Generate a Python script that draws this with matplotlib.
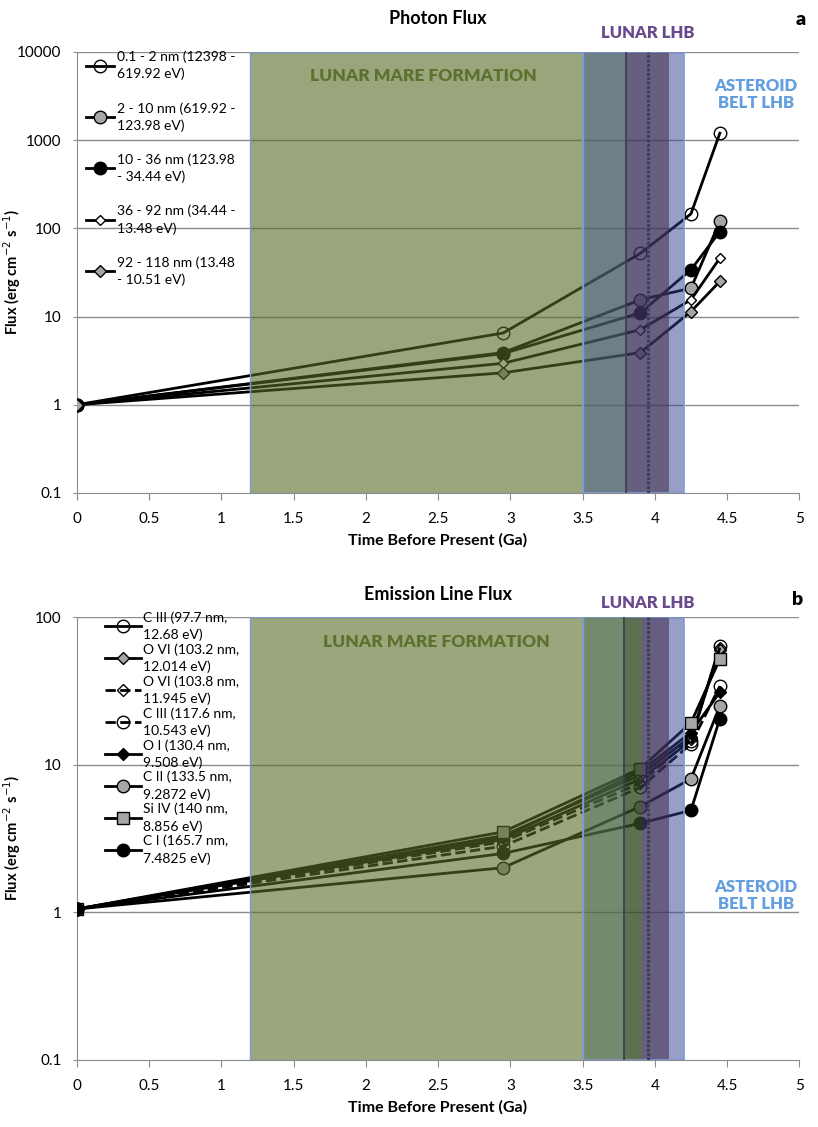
import numpy as np
import matplotlib
matplotlib.use("Agg")
import matplotlib.pyplot as plt
from matplotlib.ticker import FixedLocator, FixedFormatter

plt.rcParams['font.family'] = ['Lato', 'DejaVu Sans']

# ---- panel a: photon flux ----
photon_time = [0, 2.95, 3.9, 4.25, 4.45]
photon_labels = [
    "0.1 - 2 nm (12398 -\n619.92 eV)",
    "2 - 10 nm (619.92 -\n123.98 eV)",
    "10 - 36 nm (123.98\n- 34.44 eV)",
    "36 - 92 nm (34.44 -\n13.48 eV)",
    "92 - 118 nm (13.48\n- 10.51 eV)",
]
flux_01_2 = [1, 6.5, 52, 146, 1200]
flux_2_10 = [1, 3.9, 15.5, 21, 120]
flux_10_36 = [1, 3.8, 11, 34, 92]
flux_36_92 = [1, 2.95, 7.1, 15.5, 46]
flux_92_118 = [1, 2.3, 3.9, 11.4, 25]

# ---- panel b: emission line flux ----
line_time = [0, 2.95, 3.9, 4.25, 4.45]
line_labels = [
    "C III (97.7 nm,\n12.68 eV)",
    "O VI (103.2 nm,\n12.014 eV)",
    "O VI (103.8 nm,\n11.945 eV)",
    "C III (117.6 nm,\n10.543 eV)",
    "O I (130.4 nm,\n9.508 eV)",
    "C II (133.5 nm,\n9.2872 eV)",
    "Si IV (140 nm,\n8.856 eV)",
    "C I (165.7 nm,\n7.4825 eV)",
]
c3_977 = [1.05, 3.1, 8.0, 14.5, 64]
o6_1032 = [1.05, 3.3, 8.5, 15.5, 60]
o6_1038 = [1.05, 3.0, 7.5, 15.0, 62]
c3_1176 = [1.05, 2.8, 7.0, 13.8, 34]
o1_1304 = [1.05, 3.2, 9.0, 16.5, 31]
c2_1335 = [1.05, 2.0, 5.2, 8.0, 25]
si4_140 = [1.05, 3.5, 9.4, 19.2, 52]
c1_1657 = [1.05, 2.5, 4.0, 4.9, 20.5]

# shaded epochs (start Ga, end Ga, colour as seen) for each panel
spans_a = [(1.2, 3.5, (154, 165, 123)), (3.5, 3.8, (110, 128, 136)),
           (3.8, 4.1, (103, 95, 128)), (4.1, 4.2, (150, 160, 200))]
spans_b = [(1.2, 3.5, (156, 166, 124)), (3.5, 3.79, (116, 138, 108)),
           (3.79, 3.91, (95, 112, 80)), (3.91, 4.1, (102, 94, 128)),
           (4.1, 4.2, (150, 160, 200))]

GRAY = '#a6a6a6'


def overlay_colour(rgb, alpha):
    # colour that gives rgb over white at the given alpha
    return tuple(np.clip((np.array(rgb) - 255 * (1 - alpha)) / alpha, 0, 255) / 255)


def draw_spans(ax, spans, lines_at):
    for x0, x1, rgb in spans:
        alpha = 0.6 if x1 - x0 > 1 else (0.5 if rgb[2] > 180 else 0.78)
        ax.axvspan(x0, x1, color=overlay_colour(rgb, alpha), alpha=alpha,
                   lw=0, zorder=4)
    # thin blue outlines of the boxes
    ax.axvspan(spans[0][0], spans[0][1], fill=False, ec='#7f9ad6', lw=1, zorder=4)
    ax.axvspan(3.5, 4.2, fill=False, ec='#7f9ad6', lw=1.2, zorder=4)
    ax.axvline(lines_at[0], color='#3c4050', lw=1.3, zorder=4)
    ax.axvline(lines_at[1], color='#3b3a55', lw=2, ls=(0, (1, 0.6)), zorder=4)


def style_axis(ax, ymin, ymax):
    ax.set_yscale('log')
    ax.set_xlim(0, 5)
    ax.set_ylim(ymin, ymax)
    decades = [10.0 ** k for k in range(int(np.log10(ymin)), int(np.log10(ymax)) + 1)]
    ax.yaxis.set_major_locator(FixedLocator(decades))
    ax.yaxis.set_major_formatter(FixedFormatter(['%g' % d for d in decades]))
    ax.yaxis.set_minor_locator(FixedLocator([]))
    ax.set_xticks(np.arange(0, 5.01, 0.5))
    ax.set_xticklabels(['%g' % t for t in np.arange(0, 5.01, 0.5)])
    for d in decades[1:]:
        ax.axhline(d, color='#8c8c8c', lw=1, zorder=1)
    for s in ['top', 'right']:
        ax.spines[s].set_visible(False)
    for s in ['left', 'bottom']:
        ax.spines[s].set_color('#8c8c8c')
    ax.tick_params(axis='x', colors='#8c8c8c', labelcolor='black', labelsize=11,
                   length=5, direction='out', pad=9)
    ax.tick_params(axis='y', colors='#8c8c8c', labelcolor='black', labelsize=11,
                   length=3, direction='out', pad=8)
    ax.set_xlabel('Time Before Present (Ga)', fontsize=11.5, fontweight='bold', labelpad=5)
    ax.set_ylabel('Flux (erg cm$^{-2}$ s$^{-1}$)', fontsize=10.5, fontweight='bold')
    ax.yaxis.set_label_coords(-0.074, 0.5)


def style_legend(leg):
    leg.set_zorder(6)
    for t in leg.get_texts():
        t.set_linespacing(1.45)


fig = plt.figure(figsize=(8.18, 11.27), dpi=100)
ax1 = fig.add_axes([0.0938, 0.5626, 0.8834, 0.3913])
ax2 = fig.add_axes([0.0938, 0.0597, 0.8834, 0.3928])

# panel a
style_axis(ax1, 0.1, 10000)
kw = dict(color='black', lw=2, mec='black', mew=1, zorder=3)
ax1.plot(photon_time, flux_01_2, marker='o', ms=9, mfc='none', label=photon_labels[0], **kw)
ax1.plot(photon_time, flux_2_10, marker='o', ms=9, mfc=GRAY, label=photon_labels[1], **kw)
ax1.plot(photon_time, flux_10_36, marker='o', ms=9, mfc='black', label=photon_labels[2], **kw)
ax1.plot(photon_time, flux_36_92, marker='D', ms=5.5, mfc='white', label=photon_labels[3], **kw)
ax1.plot(photon_time, flux_92_118, marker='D', ms=6, mfc=GRAY, label=photon_labels[4], **kw)
draw_spans(ax1, spans_a, (3.8, 3.95))
leg1 = ax1.legend(loc='upper left', bbox_to_anchor=(0.0, 1.025), frameon=False,
                  fontsize=10, handlelength=2.0, handletextpad=0.2,
                  labelspacing=1.55, borderaxespad=0.3)
style_legend(leg1)
ax1.text(2.4, 5400, 'LUNAR MARE FORMATION', color='#5c7330', fontsize=12.5,
         fontweight='heavy', ha='center', va='center', zorder=5)
ax1.text(3.95, 16500, 'LUNAR LHB', color='#6a4a8e', fontsize=12, fontweight='heavy',
         ha='center', va='center', zorder=5, clip_on=False)
ax1.text(4.7, 3300, 'ASTEROID\nBELT LHB', color='#639ee0', fontsize=12,
         fontweight='heavy', ha='center', va='center', linespacing=1.1, zorder=5)
ax1.set_title('Photon Flux', fontsize=13, fontweight='bold', pad=20)
fig.text(0.985, 0.99, 'a', fontsize=14, fontweight='heavy', ha='right', va='top')

# panel b
style_axis(ax2, 0.1, 100)
ax2.plot(line_time, c3_977, marker='o', ms=9, mfc='none', label=line_labels[0], **kw)
ax2.plot(line_time, o6_1032, marker='D', ms=6, mfc=GRAY, label=line_labels[1], **kw)
ax2.plot(line_time, o6_1038, marker='D', ms=6, mfc='none', ls='--', label=line_labels[2], **kw)
ax2.plot(line_time, c3_1176, marker='o', ms=9, mfc='none', ls='--', label=line_labels[3], **kw)
ax2.plot(line_time, o1_1304, marker='D', ms=6, mfc='black', label=line_labels[4], **kw)
ax2.plot(line_time, c2_1335, marker='o', ms=9, mfc=GRAY, label=line_labels[5], **kw)
ax2.plot(line_time, si4_140, marker='s', ms=8.5, mfc=GRAY, label=line_labels[6], **kw)
ax2.plot(line_time, c1_1657, marker='o', ms=9, mfc='black', label=line_labels[7], **kw)
draw_spans(ax2, spans_b, (3.79, 3.95))
leg2 = ax2.legend(loc='upper left', bbox_to_anchor=(0.025, 1.035), frameon=False,
                  fontsize=10, handlelength=2.6, handletextpad=0.2,
                  labelspacing=0.15, borderaxespad=0.3)
style_legend(leg2)
ax2.text(2.49, 68, 'LUNAR MARE FORMATION', color='#5c7330', fontsize=12.5,
         fontweight='heavy', ha='center', va='center', zorder=5)
ax2.text(3.95, 124, 'LUNAR LHB', color='#6a4a8e', fontsize=12, fontweight='heavy',
         ha='center', va='center', zorder=5, clip_on=False)
ax2.text(4.7, 1.3, 'ASTEROID\nBELT LHB', color='#639ee0', fontsize=12,
         fontweight='heavy', ha='center', va='center', linespacing=1.1, zorder=5)
ax2.set_title('Emission Line Flux', fontsize=13, fontweight='bold', pad=12)
fig.text(0.982, 0.476, 'b', fontsize=14, fontweight='heavy', ha='right', va='top')

fig.savefig('out.png', dpi=100)
